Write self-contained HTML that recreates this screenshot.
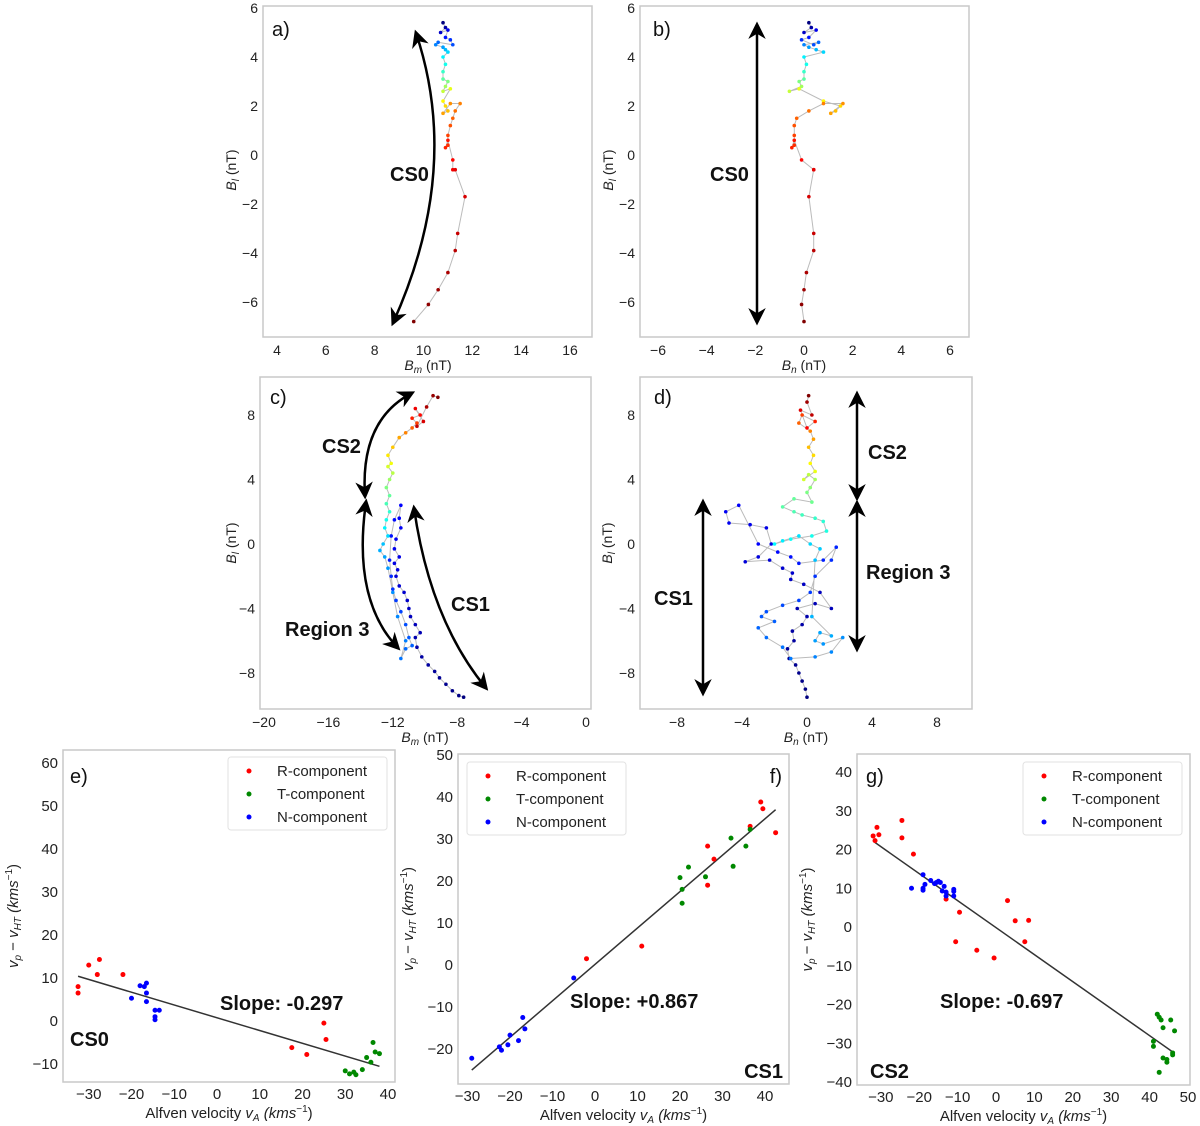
<!DOCTYPE html>
<html><head><meta charset="utf-8"><style>
html,body{margin:0;padding:0;background:#fff;}
svg{display:block;font-family:"Liberation Sans",sans-serif;}
.tick{font-size:14px;fill:#222;}
.tick2{font-size:15px;fill:#222;}
.lab{font-size:14px;fill:#222;}
.lab2{font-size:15px;fill:#222;}
.ann{font-size:20px;font-weight:bold;fill:#111;}
.pl{font-size:20px;fill:#111;}
.leg{font-size:15px;fill:#222;}
</style></head><body>
<svg id="fig" width="1200" height="1126" viewBox="0 0 1200 1126">
<defs>
<marker id="ah" viewBox="0 0 10 10" refX="8" refY="5" markerWidth="7" markerHeight="7" orient="auto-start-reverse"><path d="M0,0 L10,5 L0,10 L3,5 z" fill="#000"/></marker>
</defs>
</svg>
<script>
// ---------- data ----------
const aBl=[5.4,5.2,5.0,5.1,4.8,4.7,4.5,4.6,4.5,4.4,4.3,4.2,4.0,3.7,3.4,3.1,3.0,2.8,2.6,2.7,2.2,2.0,1.8,1.7,2.1,2.1,1.8,1.5,1.2,0.8,0.4,0.3,0.6,-0.2,-0.6,-0.6,-1.7,-3.2,-3.9,-4.8,-5.5,-6.1,-6.8];
const aBm=[10.8,10.9,10.7,11.0,10.9,11.1,11.2,10.6,10.5,10.8,10.9,11.0,10.8,10.9,10.8,10.8,11.0,10.9,10.8,11.1,10.8,10.9,11.0,10.8,11.1,11.5,11.3,11.2,11.1,11.0,11.0,10.9,11.0,11.2,11.2,11.3,11.7,11.4,11.3,11.0,10.6,10.2,9.6];
const bBn=[0.2,0.3,0.0,0.5,0.2,-0.1,0.4,0.6,0.0,0.2,0.5,0.8,0.0,0.1,0.0,0.0,-0.2,-0.1,-0.6,-0.2,0.8,1.5,1.3,1.1,1.6,0.8,0.2,-0.3,-0.4,-0.4,-0.4,-0.5,-0.4,-0.1,0.4,0.4,0.2,0.4,0.4,0.1,0.0,-0.1,0.0];
const cBm=[-7.6,-7.9,-8.3,-8.7,-9.1,-9.4,-9.8,-10.2,-10.5,-10.6,-10.3,-10.6,-10.9,-11.0,-11.1,-11.3,-11.6,-11.8,-11.7,-11.9,-11.6,-11.9,-11.8,-11.5,-11.6,-11.5,-11.9,-12.1,-12.2,-12.1,-12.0,-11.8,-11.5,-11.2,-11.0,-10.8,-11.2,-11.5,-11.2,-11.7,-12.0,-12.3,-12.5,-12.8,-12.6,-12.3,-12.5,-12.4,-12.2,-12.4,-12.2,-12.4,-12.2,-12.0,-12.3,-12.1,-12.3,-12.0,-11.6,-11.2,-10.8,-10.5,-10.8,-10.3,-10.6,-10.1,-10.5,-9.9,-9.5,-9.2];
const cBl=[-9.5,-9.4,-9.1,-8.7,-8.3,-7.9,-7.5,-7.0,-6.4,-5.8,-5.5,-5.0,-4.5,-4.0,-3.5,-3.0,-2.6,-2.0,-1.6,-1.2,-0.8,-0.3,0.3,1.0,1.6,2.4,1.5,0.5,-1.0,-2.0,-2.8,-3.5,-4.2,-5.0,-5.8,-6.3,-6.5,-7.1,-6.0,-4.5,-3.0,-1.5,-0.8,-0.4,0.0,0.5,1.0,1.5,2.0,2.5,3.0,3.5,4.0,4.4,4.8,5.0,5.5,6.0,6.6,6.9,7.2,7.5,7.8,8.0,8.4,7.6,7.3,8.5,9.2,9.1];
const dBn=[0,-0.1,-0.3,-0.5,-0.7,-1.1,-1.2,-0.8,-0.9,-0.3,0.0,-0.6,0.5,1.5,0.8,-0.2,-1.0,-0.9,-1.5,-2.3,-3.8,-3.0,-2.2,-2.5,-3.5,-4.8,-5.0,-4.2,-3.0,-1.8,-1.0,-0.5,1.0,1.8,1.5,0.5,0.2,-0.5,-1.5,-2.5,-2.8,-2.0,-3.0,-2.5,-1.5,-1.0,0.5,1.5,2.2,1.0,0.5,0.8,1.5,0.3,0.5,0.8,0.2,-0.5,-1.5,-2.0,-1.0,0.3,1.2,1.0,0.5,-0.3,-0.8,-1.5,-0.8,0.3,0.0,0.2,0.5,0.1,-0.2,0.5,0.2,0.4,0.1,0.4,0.2,-0.5,-0.3,0.5,0.0,-0.4,0.3,0.0,0.1];
const dBl=[-9.5,-9.0,-8.5,-8.0,-7.5,-7.1,-6.5,-6.0,-5.4,-5.0,-4.5,-4.0,-3.7,-4.0,-3.0,-2.5,-2.2,-1.8,-1.5,-1.0,-1.1,-0.8,0.0,1.0,1.2,1.3,2.0,2.4,0.0,-0.5,-0.8,-1.2,-1.0,-0.2,-1.0,-2.0,-3.0,-3.5,-3.8,-4.2,-4.5,-4.8,-5.2,-5.8,-6.4,-7.1,-7.0,-6.7,-5.8,-6.2,-6.0,-5.5,-5.7,-4.5,-1.0,-0.3,0.0,0.5,0.2,0.0,0.3,0.5,0.8,1.4,1.6,1.8,2.0,2.3,2.8,2.6,3.2,3.5,4.0,4.3,4.0,4.5,5.0,5.5,6.0,6.5,7.0,7.5,8.0,7.6,7.2,8.3,8.0,8.8,9.2];
// colour-time knots (index fraction -> colormap position)
const abF=[0,0.1,0.3,0.45,0.55,0.75,1], abT=[0,0.15,0.38,0.6,0.72,0.85,1];
const cF=[0,0.37,0.63,0.74,0.8,0.9,1], cT=[0,0.13,0.3,0.5,0.62,0.85,1];
const dF=[0,0.31,0.6,0.8,0.86,0.91,1], dT=[0,0.12,0.3,0.5,0.62,0.75,1];
// scatter panels
const eRx=[-32.5,-32.5,-30,-28,-27.5,-22,17.5,21,25,25.5], eRy=[8,6.5,13,10.8,14.3,10.8,-6.2,-7.8,-0.5,-4.3];
const eTx=[30,31,32,32.5,34,35,36,36.5,37,38], eTy=[-11.6,-12.3,-11.9,-12.5,-11.3,-8.5,-9.6,-5,-7.2,-7.6];
const eNx=[-20,-18,-17,-16.5,-16.5,-16.5,-14.5,-13.5,-14.5,-14.5], eNy=[5.3,8.2,8,8.8,6.5,4.5,2.5,2.5,1,0.3];
const eFit=[-0.297,0.75,-32.5,38];
const fRx=[-2,11,26.5,26.5,28,36.5,39,39.5,42.5], fRy=[1.5,4.5,28.3,19,25.2,33,38.8,37.2,31.5];
const fTx=[20,20.5,20.5,22,26,32,32.5,35.5,36.5], fTy=[20.8,18,14.7,23.3,21,30.2,23.5,28.3,32.3];
const fNx=[-29,-22.5,-22,-20.5,-20,-18,-17,-16.5,-5], fNy=[-22.2,-19.5,-20.3,-19,-16.7,-18,-12.5,-15.2,-3.1];
const fFit=[0.867,0.14,-29,42.5];
const gRx=[-32,-31.5,-31,-30.5,-24.5,-24.5,-21.5,-13,-9.5,-10.5,-5,-0.5,3,5,7.5,8.5], gRy=[23.5,22.3,25.7,23.8,27.5,23,18.8,7.2,3.8,-3.8,-6,-8,6.8,1.6,-3.8,1.7];
const gNx=[-22,-19,-19,-18.5,-19,-17,-16,-15.5,-15,-14.5,-14,-13.5,-13,-13,-11,-11,-11], gNy=[10,10,9.5,11,13.5,12,11.2,11.5,11.8,11.5,9.3,10.5,9,8,8,9.2,9.7];
const gTx=[41,41,42,42.5,43,43.5,42.5,43.5,44.5,44.5,45.5,46,46,46.5], gTy=[-29.5,-30.8,-22.5,-23.3,-24,-26,-37.5,-33.8,-34.2,-34.9,-24,-32.5,-33,-26.8];
const gFit=[-0.697,-0.16,-31.5,46.5];
const ticksA_x=[4,6,8,10,12,14,16], ticksA_y=[-6,-4,-2,0,2,4,6];
const ticksB_x=[-6,-4,-2,0,2,4,6];
const ticksC_x=[-20,-16,-12,-8,-4,0], ticksCD_y=[-8,-4,0,4,8];
const ticksD_x=[-8,-4,0,4,8];
const ticksE_x=[-30,-20,-10,0,10,20,30,40], ticksE_y=[-10,0,10,20,30,40,50,60];
const ticksF_x=[-30,-20,-10,0,10,20,30,40], ticksF_y=[-20,-10,0,10,20,30,40,50];
const ticksG_x=[-30,-20,-10,0,10,20,30,40,50], ticksG_y=[-40,-30,-20,-10,0,10,20,30,40];

// ---------- helpers ----------
const NS='http://www.w3.org/2000/svg';
const svg=document.getElementById('fig');
function mk(tag,attrs,parent,text){const e=document.createElementNS(NS,tag);for(const k in attrs)e.setAttribute(k,attrs[k]);if(text!==undefined)e.textContent=text;(parent||svg).appendChild(e);return e;}
function jet(t){const r=Math.min(Math.max(Math.min(4*t-1.5,-4*t+4.5),0),1),g=Math.min(Math.max(Math.min(4*t-0.5,-4*t+3.5),0),1),b=Math.min(Math.max(Math.min(4*t+0.5,-4*t+2.5),0),1);return `rgb(${Math.round(r*255)},${Math.round(g*255)},${Math.round(b*255)})`;}
function pw(F,T,f){for(let i=1;i<F.length;i++){if(f<=F[i])return T[i-1]+(f-F[i-1])*(T[i]-T[i-1])/(F[i]-F[i-1]);}return T[T.length-1];}
function lin(v0,p0,v1,p1){return v=>p0+(v-v0)*(p1-p0)/(v1-v0);}
function frame(name,x0,y0,x1,y1){const g=mk('g',{});
 const r=mk('rect',{x:x0,y:y0,width:x1-x0,height:y1-y0,fill:'none',stroke:'#c8c8c8','stroke-width':1.5},g);return g;}
function ticks(g,sx,sy,xt,yt,x0,y1,cls,dy){cls=cls||'tick';dy=dy||18;
 const gx=mk('g',{},g);
 xt.forEach(v=>{const t=mk('text',{x:sx(v),y:y1+dy,'text-anchor':'middle',class:cls},gx,String(v).replace('-','\u2212'));});
 const gy=mk('g',{},g);
 yt.forEach(v=>{const t=mk('text',{x:x0-5,y:sy(v)+5,'text-anchor':'end',class:cls},gy,String(v).replace('-','\u2212'));});
}
function labB(g,x,y,sub,name,rot){const t=mk('text',{x:x,y:y,'text-anchor':'middle',class:'lab'},g);
 if(rot)t.setAttribute('transform',`rotate(-90 ${x} ${y})`);
 mk('tspan',{'font-style':'italic'},t,'B');mk('tspan',{'font-size':'10px','font-style':'italic',dy:3},t,sub);mk('tspan',{dy:-3},t,' (nT)');}
function traj(g,sx,sy,X,Y,F,T,rad){const n=X.length;let d='';for(let i=0;i<n;i++)d+=(i?'L':'M')+sx(X[i]).toFixed(1)+','+sy(Y[i]).toFixed(1);
 const p=mk('path',{d:d,fill:'none',stroke:'#bbb','stroke-width':1},g);
 for(let i=0;i<n;i++){const c=mk('circle',{cx:sx(X[i]),cy:sy(Y[i]),r:rad,fill:jet(pw(F,T,i/(n-1)))},g);}}
function txt(g,x,y,s,cls,name,anchor){const t=mk('text',{x:x,y:y,class:cls,'text-anchor':anchor||'start'},g,s);return t;}
function arrow(g,d,name){const p=mk('path',{d:d,fill:'none',stroke:'#000','stroke-width':2.5,'marker-start':'url(#ah)','marker-end':'url(#ah)'},g);}

// ---------- panel a ----------
{const g=frame('panel-a',263,6,592,337);const sx=lin(4,277,16,570),sy=lin(6,8,-6,302);
 ticks(g,sx,sy,ticksA_x,ticksA_y,263,337);labB(g,428,370,'m','x-axis-title');labB(g,236,170,'l','y-axis-title',true);
 traj(g,sx,sy,aBm,aBl,abF,abT,1.8);arrow(g,'M416,33 Q462,170 393,323','cs0-arrow');txt(g,390,181,'CS0','ann','cs0-label');txt(g,272,36,'a)','pl','panel-label');}
// ---------- panel b ----------
{const g=frame('panel-b',640,6,969,337);const sx=lin(-6,658,6,950),sy=lin(6,8,-6,302);
 ticks(g,sx,sy,ticksB_x,ticksA_y,640,337);labB(g,804,370,'n','x-axis-title');labB(g,613,170,'l','y-axis-title',true);
 traj(g,sx,sy,bBn,aBl,abF,abT,1.8);arrow(g,'M757,25 L757,322','cs0-arrow');txt(g,710,181,'CS0','ann','cs0-label');txt(g,653,36,'b)','pl','panel-label');}
// ---------- panel c ----------
{const g=frame('panel-c',260,377,591,709);const sx=lin(-20,264,0,586),sy=lin(8,415,-8,673);
 ticks(g,sx,sy,ticksC_x,ticksCD_y,260,709);labB(g,425,742,'m','x-axis-title');labB(g,236,543,'l','y-axis-title',true);
 traj(g,sx,sy,cBm,cBl,cF,cT,1.8);
 arrow(g,'M412,393 Q360,420 365,496','cs2-arrow');arrow(g,'M366,502 Q352,600 398,648','region3-arrow');arrow(g,'M414,508 Q430,620 486,688','cs1-arrow');
 txt(g,322,453,'CS2','ann','cs2-label');txt(g,285,636,'Region 3','ann','region3-label');txt(g,451,611,'CS1','ann','cs1-label');txt(g,270,404,'c)','pl','panel-label');}
// ---------- panel d ----------
{const g=frame('panel-d',640,377,972,709);const sx=lin(-8,677,8,937),sy=lin(8,415,-8,673);
 ticks(g,sx,sy,ticksD_x,ticksCD_y,640,709);labB(g,806,742,'n','x-axis-title');labB(g,612,543,'l','y-axis-title',true);
 traj(g,sx,sy,dBn,dBl,dF,dT,1.8);
 arrow(g,'M703,502 L703,693','cs1-arrow');arrow(g,'M857,394 L857,498','cs2-arrow');arrow(g,'M857,503 L857,649','region3-arrow');
 txt(g,868,459,'CS2','ann','cs2-label');txt(g,866,579,'Region 3','ann','region3-label');txt(g,654,605,'CS1','ann','cs1-label');txt(g,654,404,'d)','pl','panel-label');}
// ---------- scatter panels ----------
function scatter(name,box,sx,sy,xt,yt,R,T,N,fit,legX,legY,plab,plx,slope,slx,sly,cs,csx,csy,csAnchor,ylx){
 const g=frame(name,box[0],box[1],box[2],box[3]);ticks(g,sx,sy,xt,yt,box[0],box[3],'tick2',17);
 const xl=mk('text',{x:(box[0]+box[2])/2,y:box[3]+36,'text-anchor':'middle',class:'lab2'},g);
 mk('tspan',{},xl,'Alfven velocity ');mk('tspan',{'font-style':'italic'},xl,'v');mk('tspan',{'font-size':'10px','font-style':'italic',dy:3},xl,'A');mk('tspan',{dy:-3,'font-style':'italic'},xl,' (kms');mk('tspan',{'font-size':'10px',dy:-6},xl,'\u22121');mk('tspan',{dy:6},xl,')');
 const cy=(box[1]+box[3])/2;const yl=mk('text',{x:ylx,y:cy,'text-anchor':'middle',class:'lab2',transform:`rotate(-90 ${ylx} ${cy})`},g);
 mk('tspan',{'font-style':'italic'},yl,'v');mk('tspan',{'font-size':'10px','font-style':'italic',dy:3},yl,'p');mk('tspan',{dy:-3},yl,' \u2212 ');mk('tspan',{'font-style':'italic'},yl,'v');mk('tspan',{'font-size':'10px','font-style':'italic',dy:3},yl,'HT');mk('tspan',{dy:-3,'font-style':'italic'},yl,' (kms');mk('tspan',{'font-size':'10px',dy:-6},yl,'\u22121');mk('tspan',{dy:6},yl,')');
 const fl=mk('line',{x1:sx(fit[2]),y1:sy(fit[0]*fit[2]+fit[1]),x2:sx(fit[3]),y2:sy(fit[0]*fit[3]+fit[1]),stroke:'#333','stroke-width':1.5},g);
 [[R,'#f00','r-component-point'],[T,'#080','t-component-point'],[N,'#00f','n-component-point']].forEach(([s,c,nm])=>{
  for(let i=0;i<s[0].length;i++){const p=mk('circle',{cx:sx(s[0][i]),cy:sy(s[1][i]),r:2.5,fill:c},g);}});
 const lg=mk('g',{},g);
 const lr=mk('rect',{x:legX,y:legY,width:159,height:73,rx:3,fill:'#fff',stroke:'#e2e2e2'},lg);
 [['R-component','#f00'],['T-component','#080'],['N-component','#00f']].forEach(([s,c],i)=>{const e=mk('g',{},lg);
  mk('circle',{cx:legX+21,cy:legY+14+i*23,r:2.5,fill:c},e);mk('text',{x:legX+49,y:legY+19+i*23,class:'leg'},e,s);});
 txt(g,plx,783,plab,'pl','panel-label',plab==='f)'?'end':'start');
 txt(g,slx,sly,slope,'ann','slope-label');txt(g,csx,csy,cs,'ann','segment-label',csAnchor);
}
scatter('panel-e',[63,750,395,1082],lin(0,217,40,388),lin(0,1021,60,763),ticksE_x,ticksE_y,[eRx,eRy],[eTx,eTy],[eNx,eNy],eFit,228,757,'e)',70,'Slope: -0.297',220,1010,'CS0',70,1046,'start',18);
scatter('panel-f',[458,754,789,1084],lin(0,595,40,765),lin(0,965,50,755),ticksF_x,ticksF_y,[fRx,fRy],[fTx,fTy],[fNx,fNy],fFit,467,762,'f)',782,'Slope: +0.867',570,1008,'CS1',783,1078,'end',413);
scatter('panel-g',[857,754,1190,1085],lin(0,996,50,1188),lin(0,927,40,772),ticksG_x,ticksG_y,[gRx,gRy],[gTx,gTy],[gNx,gNy],gFit,1023,762,'g)',866,'Slope: -0.697',940,1008,'CS2',870,1078,'start',812);
</script>
</body></html>
